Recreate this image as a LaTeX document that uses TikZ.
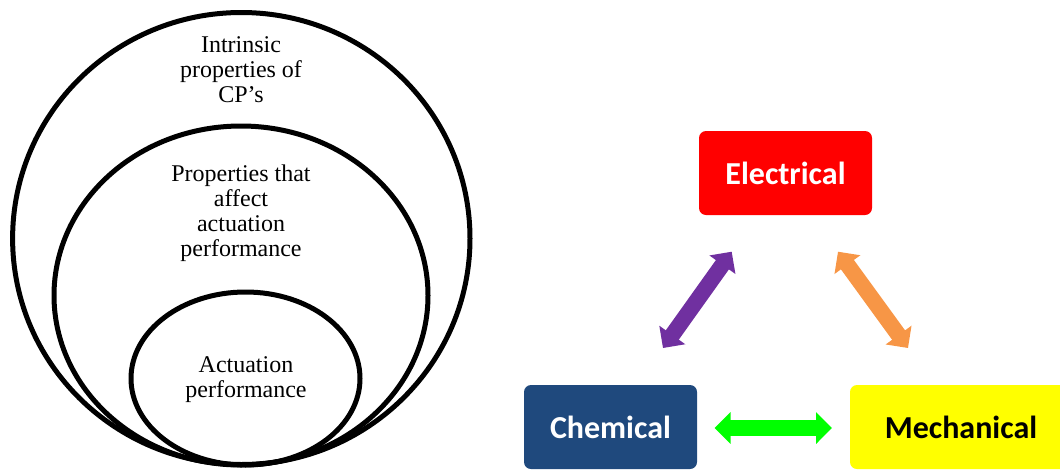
\documentclass[tikz,border=0pt]{standalone}
\usepackage{fontspec}
\setmainfont{Liberation Serif}
\newfontfamily\calib{Carlito}
\usetikzlibrary{arrows.meta}
\definecolor{cblue}{HTML}{1F497D}
\definecolor{cpurple}{HTML}{7030A0}
\definecolor{corange}{HTML}{F79646}
\definecolor{cgreen}{HTML}{00FF00}
\definecolor{cred}{HTML}{FF0000}
\definecolor{cyellow}{HTML}{FFFF00}
\tikzset{
  ring/.style={line width=5pt},
  lbl/.style={align=center, font=\fontsize{24}{25}\selectfont, inner sep=0pt},
  boxnode/.style={rounded corners=7pt, minimum height=84pt, minimum width=173pt, inner sep=0pt,
    font=\calib\bfseries\fontsize{32}{36}\selectfont},
  dblarrow/.style={line width=16pt, {Triangle[length=16pt,width=31pt]}-{Triangle[length=16pt,width=31pt]}}
}
\begin{document}
\begin{tikzpicture}[x=1pt,y=-1pt]
\useasboundingbox (0,0) rectangle (1060,469);
\begin{scope}
\clip (0,0) rectangle (1060,469);
% nested ellipses
\draw[ring] (241.3,238.5) ellipse [x radius=228.7pt, y radius=226pt];
\draw[ring] (241,295.5) ellipse [x radius=187pt, y radius=169.5pt];
\draw[ring] (245.5,378.5) ellipse [x radius=114.5pt, y radius=86.5pt];
\node[lbl] (t1) at (241,70) {Intrinsic\\properties of\\CP’s};
\node[lbl] (t2) at (241,213) {Properties that\\affect\\actuation\\performance};
\node[lbl] (t3) at (246,380) {Actuation\\performance};
% boxes
\node[boxnode, fill=cred, text=white] (E) at (785.5,173) {Electrical};
\node[boxnode, fill=cblue, text=white] (C) at (610.5,427) {Chemical};
\node[boxnode, fill=cyellow, text=black, minimum width=222pt] (M) at (961,427) {Mechanical};
% arrows
\coordinate (pE) at (731.7,251.7);
\coordinate (pC) at (663,348);
\coordinate (oE) at (838,251.7);
\coordinate (oM) at (908,348);
\coordinate (gC) at (714.5,428);
\coordinate (gM) at (832,428);
\draw[dblarrow, cpurple] (pC) -- (pE);
\draw[dblarrow, corange] (oE) -- (oM);
\draw[dblarrow, cgreen] (gC) -- (gM);
\end{scope}
\end{tikzpicture}
\end{document}
